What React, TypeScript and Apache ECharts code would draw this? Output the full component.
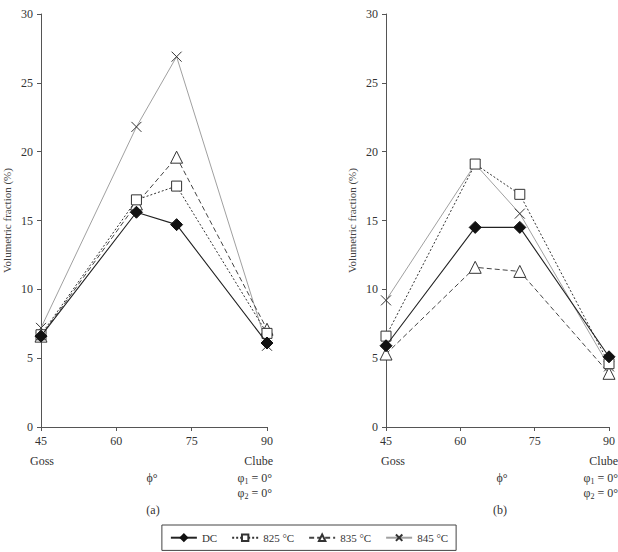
import React, { useEffect, useRef } from "react";
import * as echarts from "echarts";

const xA = [45, 64, 72, 90];
const xB = [45, 63, 72, 90];
const seriesNames = ["DC", "825 °C", "835 °C", "845 °C"];
const aDC = [6.6, 15.6, 14.7, 6.1];
const a825 = [6.7, 16.5, 17.5, 6.8];
const a835 = [6.6, 16.2, 19.6, 7.1];
const a845 = [7.2, 21.8, 26.9, 5.9];
const bDC = [5.9, 14.5, 14.5, 5.1];
const b825 = [6.6, 19.1, 16.9, 4.6];
const b835 = [5.3, 11.6, 11.3, 3.9];
const b845 = [9.2, 19.1, 15.5, 4.4];
const xTicks = [45, 60, 75, 90];
const yTicks = [0, 5, 10, 15, 20, 25, 30];

const FONT = "Liberation Serif";
const TXT = "#333";

const styles = [
  { symbol: "diamond", symbolSize: 12, itemStyle: { color: "#111", borderColor: "#111", borderWidth: 1 }, lineStyle: { color: "#222", width: 1.1, type: "solid" } },
  { symbol: "rect", symbolSize: 10, itemStyle: { color: "#fff", borderColor: "#333", borderWidth: 1 }, lineStyle: { color: "#333", width: 1, type: [2, 2] } },
  { symbol: "triangle", symbolSize: 12, itemStyle: { color: "#fff", borderColor: "#333", borderWidth: 1 }, lineStyle: { color: "#444", width: 1, type: [5, 3] } },
  { symbol: "path://M0,0L10,10M10,0L0,10", symbolSize: 10, itemStyle: { color: "none", borderColor: "#333", borderWidth: 1 }, lineStyle: { color: "#a0a0a0", width: 1, type: "solid" } },
];

function pairs(xs: number[], ys: number[]) {
  return xs.map((x, i) => [x, ys[i]]);
}

export default function App() {
  const ref = useRef<HTMLDivElement>(null);
  useEffect(() => {
    if (!ref.current) return;
    const chart = echarts.init(ref.current, null, { renderer: "svg" });
    const axisX = (gi: number) => ({
      type: "value",
      gridIndex: gi,
      min: 45,
      max: 90,
      interval: 15,
      axisLine: { show: true, lineStyle: { color: "#555" } },
      axisTick: { show: true, length: 4, inside: false, lineStyle: { color: "#555" } },
      splitLine: { show: false },
      axisLabel: { color: TXT, fontFamily: FONT, fontSize: 12, margin: 8, formatter: (v: number) => (xTicks.includes(v) ? String(v) : "") },
    });
    const axisY = (gi: number) => ({
      type: "value",
      gridIndex: gi,
      min: 0,
      max: 30,
      interval: 5,
      name: "Volumetric fraction (%)",
      nameLocation: "middle",
      nameGap: 29,
      nameTextStyle: { color: "#444", fontFamily: FONT, fontSize: 11 },
      axisLine: { show: true, lineStyle: { color: "#555" } },
      axisTick: { show: true, length: 4, lineStyle: { color: "#555" } },
      splitLine: { show: false },
      axisLabel: { color: TXT, fontFamily: FONT, fontSize: 12, margin: 8, formatter: (v: number) => (yTicks.includes(v) ? String(v) : "") },
    });
    const dataA = [aDC, a825, a835, a845];
    const dataB = [bDC, b825, b835, b845];
    const series: any[] = [];
    [0, 1].forEach((gi) => {
      const xs = gi === 0 ? xA : xB;
      const ds = gi === 0 ? dataA : dataB;
      ds.forEach((ys, i) => {
        series.push({
          type: "line",
          name: seriesNames[i],
          xAxisIndex: gi,
          yAxisIndex: gi,
          data: pairs(xs, ys),
          z: i === 0 ? 5 : 4 - i,
          ...styles[i],
        });
      });
    });
    const txt = (x: number, y: number, text: string, align = "left") => ({
      type: "text",
      x,
      y,
      style: { text, fill: TXT, fontFamily: FONT, fontSize: 12, textAlign: align, textVerticalAlign: "middle" },
    });
    const phi = (x: number, y: number, n: string) => ({
      type: "text",
      x,
      y,
      style: {
        text: `{a|φ}{s|${n}}{a| = 0°}`,
        textAlign: "right",
        textVerticalAlign: "middle",
        fill: TXT,
        rich: {
          a: { fontFamily: FONT, fontSize: 12, fill: TXT, color: TXT },
          s: { fontFamily: FONT, fontSize: 8, fill: TXT, color: TXT, padding: [6, 0, 0, 0] },
        },
      },
    });
    chart.setOption({
      animation: false,
      backgroundColor: "#fff",
      textStyle: { fontFamily: FONT },
      grid: [
        { left: 35, right: 351, top: 14, bottom: 125 },
        { left: 386, right: 7, top: 14, bottom: 125 },
      ],
      xAxis: [axisX(0), axisX(1)],
      yAxis: [axisY(0), axisY(1)],
      legend: {
        data: seriesNames,
        left: "center",
        top: 525,
        itemWidth: 26,
        itemHeight: 8,
        itemGap: 14,
        padding: [7, 8, 7, 8],
        borderColor: "#444",
        borderWidth: 1,
        textStyle: { color: TXT, fontFamily: FONT, fontSize: 11 },
      },
      graphic: [
        txt(30, 461, "Goss"),
        txt(273, 461, "Clube", "right"),
        txt(152, 478, "ϕ°", "center"),
        phi(272, 478, "1"),
        phi(272, 493, "2"),
        txt(153, 510, "(a)", "center"),
        txt(381, 461, "Goss"),
        txt(618, 461, "Clube", "right"),
        txt(502, 478, "ϕ°", "center"),
        phi(618, 478, "1"),
        phi(618, 493, "2"),
        txt(500, 510, "(b)", "center"),
      ],
      series,
    });
    return () => chart.dispose();
  }, []);
  return <div ref={ref} style={{ position: "fixed", left: 0, top: 0, width: 618, height: 552, background: "#fff" }} />;
}
